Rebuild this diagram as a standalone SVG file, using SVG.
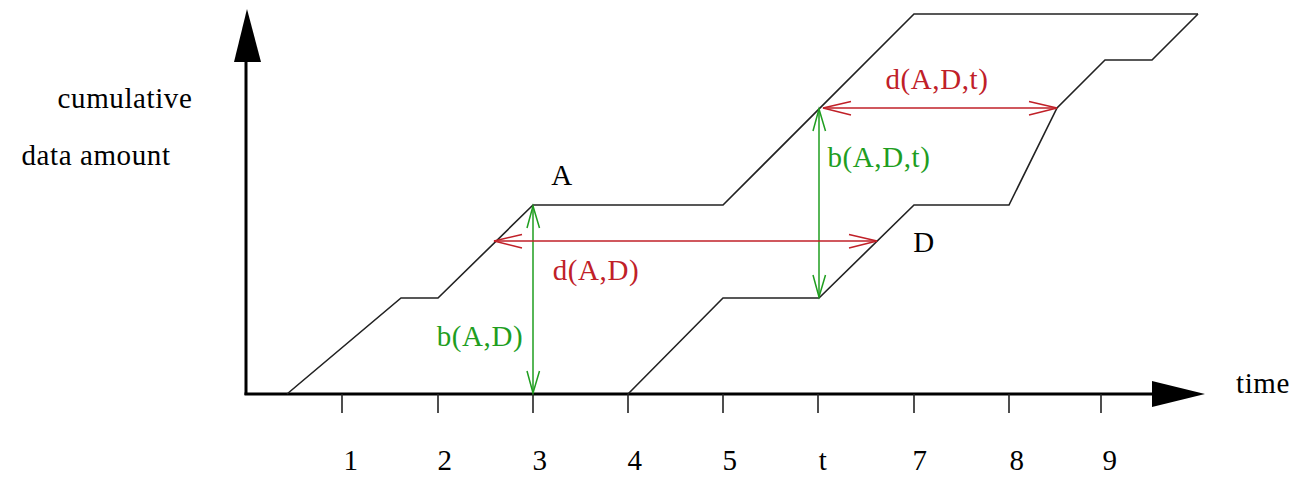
<svg xmlns="http://www.w3.org/2000/svg" width="1299" height="477" viewBox="0 0 1299 477">
<style>
.t{font-family:"Liberation Serif","Times New Roman",serif;font-size:29px;text-anchor:middle;fill:#000;letter-spacing:0.6px}
.g{fill:#1f9e1f}
.r{fill:#c02028}
.curve{fill:none;stroke:#222;stroke-width:1.6;stroke-linejoin:miter}
.axis{fill:none;stroke:#000;stroke-width:3}
.tick{stroke:#222;stroke-width:1.6}
.ga{fill:none;stroke:#1f9e1f;stroke-width:1.5}
.ra{fill:none;stroke:#c02028;stroke-width:1.5}
</style>
<rect width="1299" height="477" fill="#fff"/>
<g id="axes">
<line class="axis" x1="246" y1="60" x2="246" y2="395"/>
<line class="axis" x1="244.5" y1="394" x2="1155" y2="394"/>
<polygon points="247,9 234,62 261,62" fill="#000"/>
<polygon points="1205,394 1152,381 1152,407" fill="#000"/>
<g id="ticks">
<line class="tick" x1="342" y1="394" x2="342" y2="413"/>
<line class="tick" x1="438" y1="394" x2="438" y2="413"/>
<line class="tick" x1="533" y1="394" x2="533" y2="413"/>
<line class="tick" x1="628" y1="394" x2="628" y2="413"/>
<line class="tick" x1="723" y1="394" x2="723" y2="413"/>
<line class="tick" x1="818" y1="394" x2="818" y2="413"/>
<line class="tick" x1="914" y1="394" x2="914" y2="413"/>
<line class="tick" x1="1009" y1="394" x2="1009" y2="413"/>
<line class="tick" x1="1101" y1="394" x2="1101" y2="413"/>
</g>
<text class="t" x="351" y="470">1</text>
<text class="t" x="445" y="470">2</text>
<text class="t" x="540" y="470">3</text>
<text class="t" x="635" y="470">4</text>
<text class="t" x="730" y="470">5</text>
<text class="t" x="823" y="470">t</text>
<text class="t" x="920" y="470">7</text>
<text class="t" x="1017" y="470">8</text>
<text class="t" x="1110" y="470">9</text>
<text class="t" x="1263" y="393">time</text>
<text class="t" x="125" y="108">cumulative</text>
<text class="t" x="96" y="165">data amount</text>
</g>
<g id="curve-A">
<polyline class="curve" points="287,394 401,298 438,298 533,205 723,205 914,14 1198,14"/>
<text class="t" x="562" y="185">A</text>
</g>
<g id="curve-D">
<polyline class="curve" points="628,394 723,298 819,298 914,205 1009,205 1057,108 1105,60 1152,60 1198,14"/>
<text class="t" x="924" y="252">D</text>
</g>
<g id="connectors">
<g id="b-AD">
<line class="ga" x1="533" y1="206" x2="533" y2="393"/>
<polyline class="ga" points="527,228 533,206 539.5,228"/>
<polyline class="ga" points="527,371 533,393 539.5,371"/>
</g>
<g id="b-ADt">
<line class="ga" x1="819" y1="109" x2="819" y2="297"/>
<polyline class="ga" points="813,131 819,109 825.5,131"/>
<polyline class="ga" points="813,275 819,297 825.5,275"/>
</g>
<g id="d-AD">
<line class="ra" x1="494" y1="241" x2="877" y2="241"/>
<polyline class="ra" points="522,234.5 494,241 522,248"/>
<polyline class="ra" points="849,234.5 877,241 849,248"/>
</g>
<g id="d-ADt">
<line class="ra" x1="823" y1="108" x2="1057" y2="108"/>
<polyline class="ra" points="851,101.5 823,108 851,115"/>
<polyline class="ra" points="1029,101.5 1057,108 1029,115"/>
</g>
</g>
<g id="labels">
<text class="t r" x="596" y="280">d(A,D)</text>
<text class="t g" x="480" y="346">b(A,D)</text>
<text class="t g" x="879" y="167">b(A,D,t)</text>
<text class="t r" x="937" y="89">d(A,D,t)</text>
</g>
</svg>
